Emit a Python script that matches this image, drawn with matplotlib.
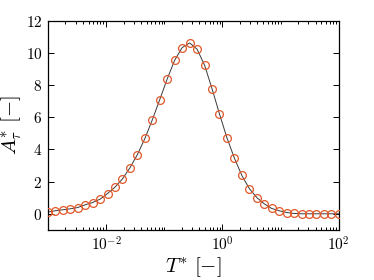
import numpy as np
import matplotlib
matplotlib.use("Agg")
import matplotlib.pyplot as plt
from matplotlib.ticker import FixedLocator, LogFormatterMathtext, NullFormatter

plt.rcParams['font.family'] = 'serif'
plt.rcParams['font.serif'] = ['cmr10']
plt.rcParams['mathtext.fontset'] = 'cm'
plt.rcParams['axes.formatter.use_mathtext'] = True
plt.rcParams['axes.unicode_minus'] = False

# dimensionless period, 40 log-spaced samples
T_star = np.logspace(-3, 2, 40)
# amplitude
A_tau = [0.11, 0.19, 0.25, 0.31, 0.39, 0.56, 0.70, 0.91, 1.26, 1.66,
         2.17, 2.86, 3.68, 4.68, 5.84, 7.10, 8.39, 9.55, 10.33, 10.62,
         10.23, 9.24, 7.78, 6.21, 4.72, 3.46, 2.38, 1.57, 1.01, 0.62,
         0.33, 0.19, 0.08, 0.02, 0.0, 0.0, 0.0, 0.0, 0.0, 0.0]
y_ticks = [0, 2, 4, 6, 8, 10, 12]

fig = plt.figure(figsize=(3.74, 2.8), dpi=100)
ax = fig.add_axes([0.128, 0.179, 0.778, 0.747])

ax.plot(T_star, A_tau, '-', color='#3a3a3a', lw=0.7, zorder=2)
ax.plot(T_star, A_tau, 'o', mfc='none', mec='#E0582A', ms=5.6, mew=0.9, zorder=3)

ax.set_xscale('log')
ax.set_xlim(1e-3, 1e2)
ax.set_ylim(-1, 12)
ax.set_yticks(y_ticks)

ax.xaxis.set_major_locator(FixedLocator([1e-2, 1e0, 1e2]))
ax.xaxis.set_major_formatter(LogFormatterMathtext())
minors = [m * 10.0 ** e for e in range(-3, 2) for m in range(1, 10)]
minors = [v for v in minors if v not in (1e-2, 1e0)]
ax.xaxis.set_minor_locator(FixedLocator(minors))
ax.xaxis.set_minor_formatter(NullFormatter())

ax.tick_params(which='both', direction='in', top=True, right=True, labelsize=11, width=0.7)
ax.tick_params(which='major', length=4, pad=4)
ax.tick_params(which='minor', length=2)
for s in ax.spines.values():
    s.set_linewidth(0.9)

ax.set_xlabel(r'$T^{*}\ [-]$', fontsize=15, labelpad=1)
ax.set_ylabel(r'$A^{*}_{\tau}\ [-]$', fontsize=15, labelpad=1)

fig.savefig('out.png', dpi=100)
